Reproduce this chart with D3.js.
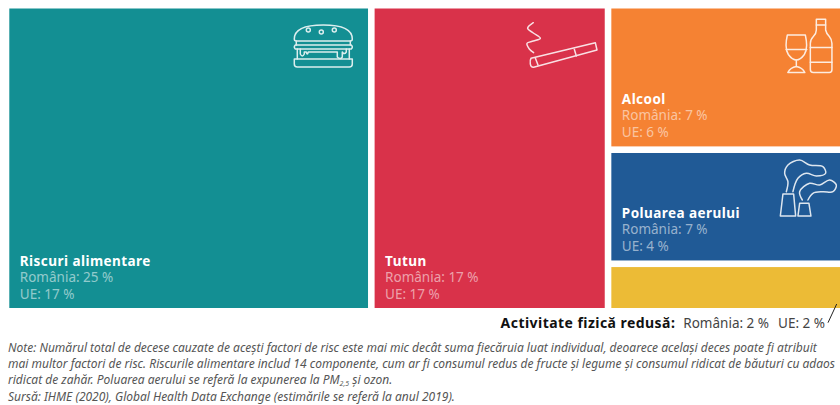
<!DOCTYPE html>
<html>
<head>
<meta charset="utf-8">
<script src="https://cdn.jsdelivr.net/npm/d3@7"></script>
<style>
html, body { margin: 0; padding: 0; background: #fff; overflow: hidden; }
svg { display: block; }
text { font-family: "Noto Sans", sans-serif; }
.icon { fill: none; stroke: #fff; stroke-width: 1.5; stroke-linejoin: round; stroke-linecap: round; opacity: .85; }
</style>
</head>
<body>
<div id="chart"></div>
<script>
var categories = ["Riscuri alimentare", "Tutun", "Alcool", "Poluarea aerului", "Activitate fizică redusă"];
var romania = [25, 17, 7, 7, 2];
var ue = [17, 17, 6, 4, 2];
// tile areas (the printed percents are rounded)
var areaWeights = [25, 16.2, 7.6, 6.0, 2.5];
var colors = ["#138f93", "#d9324a", "#f58233", "#205a96", "#ecbb36"];

var noteLines = [
    "Note: Numărul total de decese cauzate de acești factori de risc este mai mic decât suma fiecăruia luat individual, deoarece același deces poate fi atribuit",
    "mai multor factori de risc. Riscurile alimentare includ 14 componente, cum ar fi consumul redus de fructe și legume și consumul ridicat de băuturi cu adaos",
    "ridicat de zahăr. Poluarea aerului se referă la expunerea la PM|2,5| și ozon.",
    "Sursă: IHME (2020), Global Health Data Exchange (estimările se referă la anul 2019)."
];

var width = 840, height = 405;
var margin = {top: 8.5, left: 9.3, bottom: 97};

var svg = d3.select("#chart").append("svg")
    .attr("width", width)
    .attr("height", height);

var leaves = categories.map(function (d, i) {
    return {name: d, value: areaWeights[i], romania: romania[i], ue: ue[i], color: colors[i], index: i};
});

// big tiles side by side, the three small ones stacked in the last column
var root = d3.hierarchy({children: [leaves[0], leaves[1], {children: leaves.slice(2)}]})
    .sum(function (d) { return d.value || 0; });

d3.treemap()
    .size([width - margin.left, height - margin.top - margin.bottom])
    .paddingInner(6.6)
    .tile(function (node, x0, y0, x1, y1) {
        (node.depth === 0 ? d3.treemapDice : d3.treemapSlice)(node, x0, y0, x1, y1);
    })(root);

var g = svg.append("g")
    .attr("transform", "translate(" + margin.left + "," + margin.top + ")");

var cell = g.selectAll("g.cell")
    .data(root.leaves())
    .join("g")
    .attr("class", "cell")
    .attr("transform", function (d) { return "translate(" + d.x0 + "," + d.y0 + ")"; });

cell.append("rect")
    .attr("width", function (d) { return d.x1 - d.x0; })
    .attr("height", function (d) { return d.y1 - d.y0; })
    .attr("fill", function (d) { return d.data.color; });

// labels sit at the bottom of the tile, the yellow one goes below it
var labelled = cell.filter(function (d) { return d.data.index < 4; });

labelled.append("text")
    .attr("x", 10.5)
    .attr("y", function (d) { return d.y1 - d.y0 - 42.5; })
    .attr("fill", "#fff")
    .attr("font-size", 13.5)
    .attr("font-weight", 700)
    .attr("letter-spacing", 0.45)
    .text(function (d) { return d.data.name; });

labelled.append("text")
    .attr("x", 10.5)
    .attr("y", function (d) { return d.y1 - d.y0 - 26; })
    .attr("fill", "#fff")
    .attr("fill-opacity", 0.55)
    .attr("font-size", 13.5)
    .text(function (d) { return "România: " + d.data.romania + " %"; });

labelled.append("text")
    .attr("x", 10.5)
    .attr("y", function (d) { return d.y1 - d.y0 - 9.5; })
    .attr("fill", "#fff")
    .attr("fill-opacity", 0.55)
    .attr("font-size", 13.5)
    .text(function (d) { return "UE: " + d.data.ue + " %"; });

// icons, each one drawn in its own tile's corner
function icon(i, dx, dy) {
    var d = root.leaves()[i];
    return svg.append("g")
        .attr("class", "icon")
        .attr("transform", "translate(" + (margin.left + d.x0 + dx) + "," + (margin.top + d.y0 + dy) + ")");
}
function paths(sel, list) {
    list.forEach(function (p) { sel.append("path").attr("d", p); });
}
var blob = d3.line().curve(d3.curveCatmullRom);

var burger = icon(0, 284, 15.5);
paths(burger, [
    "M1 15 C1 5 12 1 30 1 C48 1 59 5 59 15 Q59 17 57 17 H3 Q1 17 1 15 Z",
    "M3 17 V21 M57 17 V21",
    "M2 21 H58 Q60 23 58 25 H2 Q0 23 2 21 Z",
    "M4 25 V35 M56 25 V35",
    "M7 25 V30 Q9 34 11 30 V28 H13 Q14 32 15 28 H44 V33 Q47 36 49 33 V28 Q51 31 53 28 V25",
    "M1 35 H59 V40 Q59 43 56 43 H4 Q1 43 1 40 Z"
]);
burger.append("circle").attr("cx", 15).attr("cy", 6).attr("r", 2);
burger.append("circle").attr("cx", 28).attr("cy", 8).attr("r", 2);
burger.append("circle").attr("cx", 41).attr("cy", 6).attr("r", 2);

var cigarette = icon(1, 151.7, 13.5);
paths(cigarette, [
    "M4.7 36.3 L69 20.7 L70.7 28 L7.3 45.3 Q4.5 45.5 4 42 Q3.5 38 4.7 36.3 Z",
    "M48 27.3 L50 34",
    "M9 36 L11.7 43"
]);
cigarette.append("path").attr("d", blob([[7, 0.7], [1.3, 6.3], [7, 11], [14, 16.3], [7, 19], [0.7, 21.3], [3, 27], [7.3, 30.7]]));

var wine = icon(2, 174, 10);
paths(wine, [
    "M2 16.5 H20 Q23 30 19 36 Q15 41.5 11 41.5 Q7 41.5 3 36 Q-1 30 2 16.5 Z",
    "M0.8 31 H21.5",
    "M11 41.5 V48 M2.5 54 Q5 49 11 48 Q17 49 19.5 54 Z",
    "M31 0.8 H40.3 V11.5 Q41 15 44 18 Q46.6 21 46.6 25 V51 Q46.6 54 44 54 H28 Q25 54 25 51 V25 Q25 21 28 18 Q31 15 31 11.5 Z",
    "M31 6.5 H40.3",
    "M25 29 H46.6 M25 43.8 H46.6"
]);

var smoke = icon(3, 168.3, 7);
paths(smoke, [
    "M3.3 34 H14 L16 56 H0.7 Z",
    "M20 43.3 H29.3 L31.3 56 H18.3 Z"
]);
smoke.append("path").attr("d", blob([[6.7, 31.7], [8.3, 21.7], [5, 13.3], [8.3, 5], [20, 0], [30, 5], [43.3, 6.7], [46, 13.3], [36.7, 16], [26.7, 13.3], [18.3, 18.3], [13.3, 31.7]]));
smoke.append("path").attr("d", blob([[22.7, 40], [20, 31.7], [30, 23.3], [40, 25], [50, 20], [56.7, 25], [53.3, 31.7], [43.3, 31.7], [33.3, 33.3], [28.3, 40]]));

// the tile too small for a label gets it below, with a leader line
var yellow = leaves[4];
var below = svg.append("text")
    .attr("x", 825)
    .attr("y", 328)
    .attr("text-anchor", "end")
    .attr("fill", "#444")
    .attr("font-size", 13.5);
below.append("tspan")
    .attr("font-weight", 700)
    .attr("fill", "#111")
    .attr("font-size", 14)
    .attr("letter-spacing", 0.45)
    .text(yellow.name + ":");
below.append("tspan").attr("dx", 8).text("România: " + yellow.romania + " %");
below.append("tspan").attr("dx", 9).text("UE: " + yellow.ue + " %");

svg.append("line")
    .attr("x1", 836.7).attr("y1", 304)
    .attr("x2", 828).attr("y2", 322.7)
    .attr("stroke", "#222")
    .attr("stroke-width", 1);

// note lines, "|" marks the subscript
var notes = svg.append("g")
    .attr("fill", "#555")
    .attr("font-size", 12)
    .attr("font-style", "italic");

notes.selectAll("text")
    .data(noteLines)
    .join("text")
    .attr("x", 8)
    .attr("y", function (d, i) { return 351.5 + i * 16.4; })
    .each(function (d) {
        var t = d3.select(this);
        d.split("|").forEach(function (part, i) {
            var span = t.append("tspan").text(part);
            if (i === 1) span.attr("font-size", 7).attr("dy", 2);
            if (i === 2) span.attr("dy", -2);
        });
    });
</script>
</body>
</html>
